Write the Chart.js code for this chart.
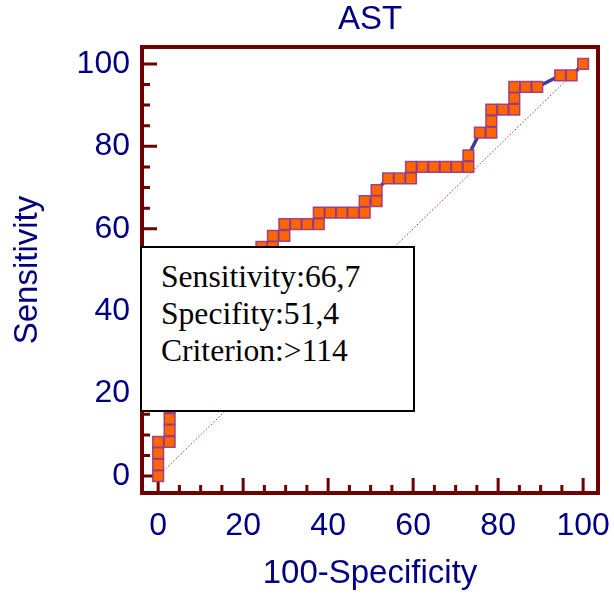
<!DOCTYPE html>
<html><head><meta charset="utf-8">
<script src="https://cdn.jsdelivr.net/npm/chart.js@4"></script>
<style>
html,body{margin:0;padding:0;background:#fff;}
#wrap{position:relative;width:614px;height:597px;}
#info{position:absolute;left:140px;top:246px;width:275px;height:166px;border:2px solid #000;background:#fff;
font-family:"Liberation Serif","Times New Roman",serif;font-size:31.6px;line-height:37px;color:#000;
padding:10px 0 0 19px;box-sizing:border-box;white-space:nowrap;}
</style></head><body>
<div id="wrap"><canvas id="c" width="614" height="597"></canvas>
<div id="info"><div>Sensitivity:66,7</div><div>Specifity:51,4</div><div>Criterion:&gt;114</div></div></div>
<script>
const chartTitle = 'AST';
const xTitle = '100-Specificity';
const yTitle = 'Sensitivity';
const rocFpr = [0,0,0,0,2.7,2.7,2.7,2.7,2.7,5.4,5.4,8.1,8.1,8.1,10.8,10.8,10.8,13.5,13.5,16.2,16.2,16.2,18.9,18.9,18.9,21.6,21.6,21.6,24.3,24.3,27.0,27.0,29.7,29.7,32.4,35.1,37.8,37.8,40.5,43.2,45.9,48.6,48.6,51.4,51.4,54.1,56.8,59.5,59.5,62.2,64.9,67.6,70.3,73.0,73.0,75.7,78.4,78.4,78.4,81.1,83.8,83.8,83.8,86.5,89.2,94.6,97.3,100];
const rocSens = [0,2.8,5.6,8.3,8.3,11.1,13.9,16.7,19.4,19.4,22.2,22.2,25.0,27.8,27.8,30.6,33.3,33.3,36.1,36.1,38.9,41.7,41.7,44.4,47.2,47.2,50.0,52.8,52.8,55.6,55.6,58.3,58.3,61.1,61.1,61.1,61.1,63.9,63.9,63.9,63.9,63.9,66.7,66.7,69.4,72.2,72.2,72.2,75.0,75.0,75.0,75.0,75.0,75.0,77.8,83.3,83.3,86.1,88.9,88.9,88.9,91.7,94.4,94.4,94.4,97.2,97.2,100];
const refX = [0,100];
const refY = [0,100];
const majorTicks = [0,20,40,60,80,100];
const minorTicks = [5,10,15,25,30,35,45,50,55,65,70,75,85,90,95];

const navy = '#000080';
const frameColor = '#6e0000';
const tickFont = {family:'"Liberation Sans", Arial, sans-serif', size:32};
const titleFont = {family:'"Liberation Sans", Arial, sans-serif', size:33};

const framePlugin = {
  id:'frame',
  beforeDatasetsDraw(chart){
    const {ctx, chartArea:a} = chart;
    const xs = chart.scales.x, ys = chart.scales.y;
    ctx.save();
    ctx.strokeStyle = frameColor;
    ctx.lineWidth = 3;
    ctx.beginPath();
    majorTicks.forEach(v=>{
      const px = xs.getPixelForValue(v); ctx.moveTo(px,a.bottom); ctx.lineTo(px,a.bottom-15);
      const py = ys.getPixelForValue(v); ctx.moveTo(a.left,py); ctx.lineTo(a.left+15,py);
    });
    minorTicks.forEach(v=>{
      const px = xs.getPixelForValue(v); ctx.moveTo(px,a.bottom); ctx.lineTo(px,a.bottom-8);
      const py = ys.getPixelForValue(v); ctx.moveTo(a.left,py); ctx.lineTo(a.left+8,py);
    });
    ctx.stroke();
    ctx.lineWidth = 4;
    ctx.strokeRect(a.left,a.top,a.right-a.left,a.bottom-a.top);
    ctx.restore();
  }
};

new Chart(document.getElementById('c'), {
  type:'scatter',
  data:{datasets:[
    {data: rocFpr.map((x,i)=>({x:x,y:rocSens[i]})), showLine:true, borderColor:'#3b3ba3', borderWidth:3.5,
     pointStyle:'rect', pointRadius:7.6, pointHoverRadius:7.6, pointBackgroundColor:'#ff6600',
     pointBorderColor:'rgba(150,55,135,0.9)', pointBorderWidth:1.5, tension:0, order:0},
    {data: refX.map((x,i)=>({x:x,y:refY[i]})), showLine:true, borderColor:'#b02828', borderWidth:1,
     borderDash:[1.5,2], pointRadius:0, order:1}
  ]},
  options:{
    responsive:false, animation:false, devicePixelRatio:1,
    layout:{padding:0},
    plugins:{legend:{display:false}, tooltip:{enabled:false}, title:{display:false}},
    scales:{
      x:{type:'linear', position:'bottom', min:-3.8, max:103.5,
         afterBuildTicks(s){ s.ticks = majorTicks.map(v=>({value:v})); },
         grid:{display:false, drawTicks:false}, border:{display:false},
         ticks:{font:tickFont, color:navy, padding:14, maxRotation:0},
         title:{display:true, text:xTitle, font:titleFont, color:navy, padding:{top:0,bottom:3}},
         afterFit(s){ s.height = 104; s.paddingLeft = 0; s.paddingRight = 16; }},
      x2:{type:'linear', axis:'x', position:'top', min:-3.8, max:103.5,
         grid:{display:false, drawTicks:false}, border:{display:false},
         ticks:{display:false},
         title:{display:true, text:chartTitle, font:titleFont, color:navy, padding:{top:0,bottom:0}},
         afterFit(s){ s.height = 47; s.paddingLeft = 0; s.paddingRight = 16; }},
      y:{type:'linear', position:'left', min:-4.1, max:104.1,
         afterBuildTicks(s){ s.ticks = majorTicks.map(v=>({value:v})); },
         grid:{display:false, drawTicks:false}, border:{display:false},
         ticks:{font:tickFont, color:navy, padding:12},
         title:{display:true, text:yTitle, font:titleFont, color:navy, padding:{top:8,bottom:0}},
         afterFit(s){ s.width = 142; s.paddingTop = 0; s.paddingBottom = 0; }}
    }
  },
  plugins:[framePlugin]
});
</script>
</body></html>
